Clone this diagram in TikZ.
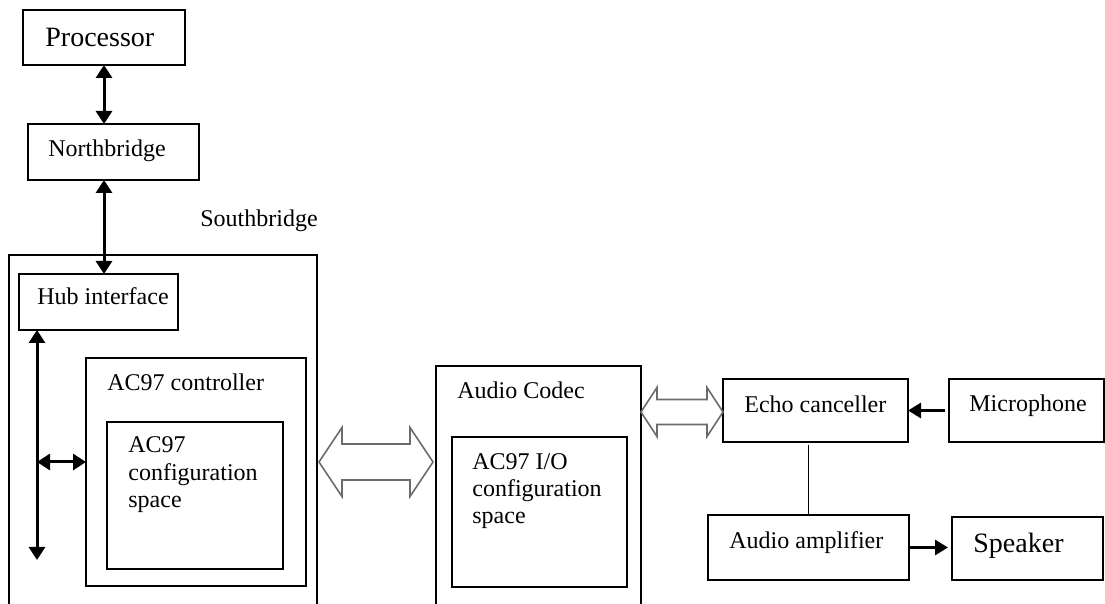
\documentclass[tikz,border=0pt]{standalone}
\usepackage{fontspec}
\setmainfont{Liberation Serif}
\usetikzlibrary{arrows.meta,calc,fit}
\begin{document}
\begin{tikzpicture}[x=0.5pt,y=-0.5pt,
  box/.style={draw, line width=0.9pt, inner sep=0pt, outer sep=0pt},
  txt/.style={anchor=base west, inner sep=0pt, font=\fontsize{12}{13.75}\selectfont},
  big/.style={anchor=base west, inner sep=0pt, font=\fontsize{14}{16}\selectfont},
  bus/.style={line width=1.5pt, {Triangle[length=6.5pt,width=8pt]}-{Triangle[length=6.5pt,width=8pt]}},
  sig/.style={line width=1.5pt, -{Triangle[length=6.5pt,width=7.5pt]}},
  hollow/.style={draw=black!58, line width=0.8pt, line join=miter}]
\useasboundingbox (0,0) rectangle (1105,604);
\clip (0,0) rectangle (1105,604);

% boxes
\node[box, fit={(23,10) (185,65)}] (proc) {};
\node[box, fit={(28,124) (199,180)}] (north) {};
\node[box, fit={(9,255) (317,640)}] (sb) {};
\node[box, fit={(19,274) (178,330)}] (hub) {};
\node[box, fit={(86,358) (306,586)}] (ctrl) {};
\node[box, fit={(107,422) (283,569)}] (cfg) {};
\node[box, fit={(436,366) (641,640)}] (codec) {};
\node[box, fit={(452,437) (627,587)}] (io) {};
\node[box, fit={(723,379) (908,442)}] (echo) {};
\node[box, fit={(949,379) (1104,442)}] (mic) {};
\node[box, fit={(708,515) (909,580)}] (amp) {};
\node[box, fit={(952,517) (1103,580)}] (spk) {};

% texts
\node[big] (tproc) at (45,47) {Processor};
\node[txt] (tnorth) at (48,157) {Northbridge};
\node[txt] (tsb) at (200,227) {Southbridge};
\node[txt] (thub) at (37,305) {Hub interface};
\node[txt] (tctrl) at (107,391) {AC97 controller};
\node[txt, align=left] (tcfg) at (128,508) {AC97\\configuration\\space};
\node[txt] (tcodec) at (457,399) {Audio Codec};
\node[txt, align=left] (tio) at (472,524) {AC97 I/O\\configuration\\space};
\node[txt] (techo) at (744,413) {Echo canceller};
\node[txt] (tmic) at (969,412) {Microphone};
\node[txt] (tamp) at (729,549) {Audio amplifier};
\node[big] (tspk) at (973,553) {Speaker};

% bus arrows
\draw[bus] (proc.south) -- (proc.south |- north.north);
\draw[bus] (proc.south |- north.south) -- (proc.south |- hub.north);
\coordinate (vb) at (37,560);
\draw[bus] (vb |- hub.south) -- (vb);
\coordinate (hj) at (37,462);
\draw[bus] (hj) -- (hj -| ctrl.west);

% hollow double arrows
\path (hj -| sb.east) ++(2,0) coordinate (h1a);
\path (hj -| codec.west) ++(-3,0) coordinate (h1b);
\draw[hollow] (h1a) -- ++(23,-34.5) -- ++(0,16.5) -- ($(h1b)+(-23,-18)$) -- ++(0,-16.5) -- (h1b)
  -- ++(-23,34.5) -- ++(0,-16.5) -- ($(h1a)+(23,18)$) -- ++(0,16.5) -- cycle;
\path (echo.west -| codec.east) ++(0,1.5) coordinate (h2a);
\path (echo.west) ++(0,1.5) coordinate (h2b);
\draw[hollow] (h2a) -- ++(16,-24.5) -- ++(0,12) -- ($(h2b)+(-16,-12.5)$) -- ++(0,-12) -- (h2b)
  -- ++(-16,24.5) -- ++(0,-12) -- ($(h2a)+(16,12.5)$) -- ++(0,12) -- cycle;

% signal arrows
\draw[sig, shorten <=2pt] (mic.west) -- (echo.east);
\draw[line width=0.7pt] (amp.north) -- ([yshift=-1.5pt]amp.north |- echo.south);
\draw[sig, shorten >=2pt] (amp.east) -- (amp.east -| spk.west);
\end{tikzpicture}
\end{document}
